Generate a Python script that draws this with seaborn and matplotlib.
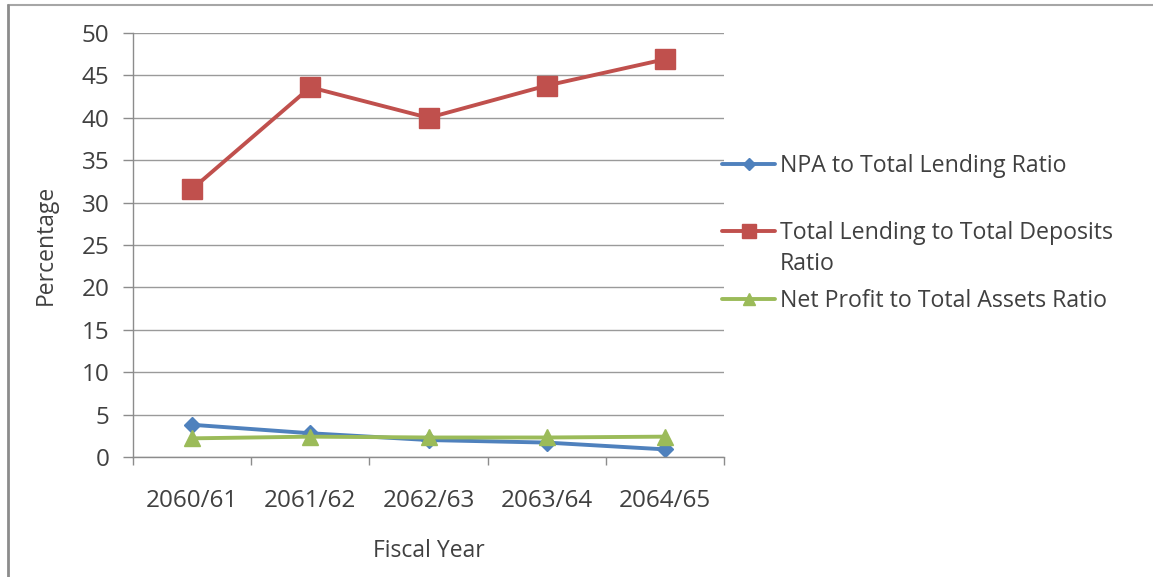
import matplotlib
matplotlib.use("Agg")
import matplotlib.pyplot as plt
from matplotlib.lines import Line2D
import pandas as pd
import seaborn as sns

# Fiscal years and ratio series (percent)
years = ["2060/61", "2061/62", "2062/63", "2063/64", "2064/65"]
npa_to_lending = [3.8, 2.8, 2.0, 1.7, 0.9]
lending_to_deposits = [31.6, 43.6, 40.0, 43.8, 46.9]
profit_to_assets = [2.2, 2.4, 2.3, 2.3, 2.4]

series_names = [
    "NPA to Total Lending Ratio",
    "Total Lending to Total Deposits Ratio",
    "Net Profit to Total Assets Ratio",
]
series_values = [npa_to_lending, lending_to_deposits, profit_to_assets]

colors = ["#4F81BD", "#C0504D", "#9BBB59"]
markers = ["D", "s", "^"]
marker_sizes = [8, 14.5, 11]
text_color = "#404040"
axis_gray = "#8C8C8C"

sns.set_theme(style="white")
plt.rcParams["font.family"] = ["Open Sans", "DejaVu Sans"]

df = pd.DataFrame(
    [(y, v, name) for name, vals in zip(series_names, series_values) for y, v in zip(years, vals)],
    columns=["Fiscal Year", "Percentage", "Ratio"],
)

fig = plt.figure(figsize=(11.53, 5.77), dpi=100)
ax = fig.add_axes([133 / 1153, 1 - 457 / 577, (724 - 133) / 1153, (457 - 33) / 577])

for name, col, mk, ms in zip(series_names, colors, markers, marker_sizes):
    sns.lineplot(
        data=df[df["Ratio"] == name], x="Fiscal Year", y="Percentage",
        color=col, marker=mk, markersize=ms, markeredgecolor=col,
        markeredgewidth=1, linewidth=2.8, sort=False, legend=False, ax=ax,
    )

ax.set_ylim(0, 50)
ax.set_yticks(range(0, 51, 5))
ax.set_xlim(-0.5, len(years) - 0.5)
ax.set_xticks(range(len(years)))
ax.set_xticklabels(years)
ax.set_xticks([i - 0.5 for i in range(len(years) + 1)], minor=True)

ax.grid(axis="y", color="#9A9A9A", linewidth=1.0)
ax.grid(axis="x", visible=False)
ax.set_axisbelow(True)
for side in ("top", "right"):
    ax.spines[side].set_visible(False)
for side in ("left", "bottom"):
    ax.spines[side].set_color(axis_gray)
    ax.spines[side].set_linewidth(1.0)

ax.tick_params(axis="y", which="major", direction="out", length=7, width=1,
               color=axis_gray, labelsize=17.5, labelcolor=text_color, pad=10, left=True)
ax.tick_params(axis="x", which="major", length=0, labelsize=17.5,
               labelcolor=text_color, pad=23)
ax.tick_params(axis="x", which="minor", direction="out", length=6, width=1,
               color=axis_gray, bottom=True)

ax.set_xlabel("Fiscal Year", fontsize=16.5, color=text_color)
ax.set_ylabel("Percentage", fontsize=16.5, color=text_color)
ax.xaxis.set_label_coords(0.5, (457 - 551) / 424)
ax.xaxis.label.set_va("center")
ax.yaxis.set_label_coords((46 - 133) / 591, 0.5)
ax.yaxis.label.set_va("center")

# Legend entries stacked down the right-hand side
legend_rows = [
    (series_names[0], 166),
    ("Total Lending to Total Deposits", 233),
    (series_names[2], 301),
]
for (label, ypix), col, mk, ms in zip(legend_rows, colors, markers, [6, 10, 8]):
    handle = Line2D([], [], color=col, marker=mk, markersize=ms,
                    markeredgecolor=col, linewidth=2.8)
    leg = fig.legend(
        [handle], [label], loc="center left",
        bbox_to_anchor=(722 / 1153, 1 - ypix / 577),
        frameon=False, fontsize=16.7, handlelength=2.3, handletextpad=0.2,
        borderpad=0, borderaxespad=0, labelcolor=text_color,
    )
fig.text(780 / 1153, 1 - 264 / 577, "Ratio", fontsize=16.7, color=text_color,
         ha="left", va="center")

# Outer frame lines along the top and left edges
fig.add_artist(Line2D([8 / 1153, 1], [1 - 5 / 577, 1 - 5 / 577],
                      transform=fig.transFigure, color="#A6A6A6", linewidth=1.5))
fig.add_artist(Line2D([8 / 1153, 8 / 1153], [0, 1 - 5 / 577],
                      transform=fig.transFigure, color="#8C8C8C", linewidth=2.0))

fig.savefig("out.png", dpi=100, facecolor="white")
